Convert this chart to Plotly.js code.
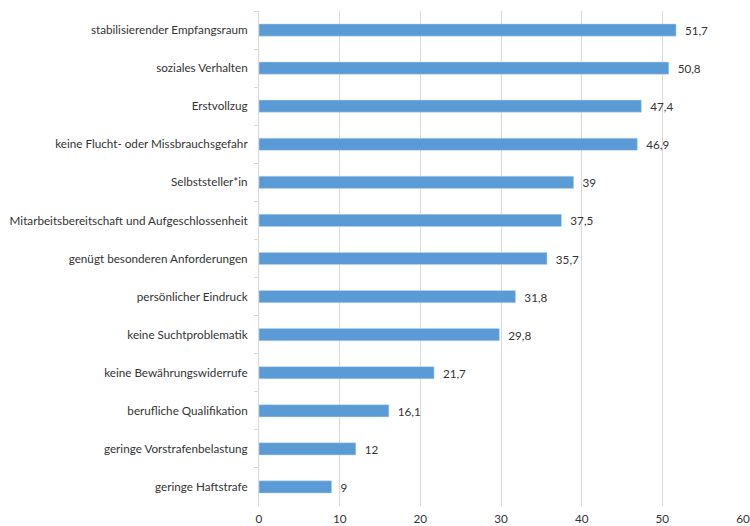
<!DOCTYPE html>
<html>
<head>
<meta charset="utf-8">
<script src="https://cdn.plot.ly/plotly-3.0.1.min.js"></script>
<style>html,body{margin:0;padding:0;background:#fff;}#chart{width:750px;height:526px;}</style>
</head>
<body>
<div id="chart"></div>
<script>
const categories = [
  "stabilisierender Empfangsraum",
  "soziales Verhalten",
  "Erstvollzug",
  "keine Flucht- oder Missbrauchsgefahr",
  "Selbststeller*in",
  "Mitarbeitsbereitschaft und Aufgeschlossenheit",
  "genügt besonderen Anforderungen",
  "persönlicher Eindruck",
  "keine Suchtproblematik",
  "keine Bewährungswiderrufe",
  "berufliche Qualifikation",
  "geringe Vorstrafenbelastung",
  "geringe Haftstrafe"
];
const values = [51.7, 50.8, 47.4, 46.9, 39, 37.5, 35.7, 31.8, 29.8, 21.7, 16.1, 12, 9];
const xTicks = [0, 10, 20, 30, 40, 50, 60];

const labels = values.map(v => '\u2002' + String(v).replace('.', ','));
const fontFam = 'Lato, "Liberation Sans", sans-serif';
const fs = 11.7;

Plotly.newPlot('chart', [{
  type: 'bar',
  orientation: 'h',
  y: categories,
  x: values,
  text: labels,
  textposition: 'outside',
  constraintext: 'none',
  cliponaxis: false,
  textfont: {family: fontFam, size: fs, color: '#333333'},
  marker: {color: '#5B9BD5', line: {color: '#BDD7EE', width: 0.5}},
  hoverinfo: 'none'
}], {
  width: 750, height: 526,
  margin: {l: 259, r: 7, t: 11, b: 20, pad: 0},
  paper_bgcolor: '#fff', plot_bgcolor: '#fff',
  bargap: 0.68,
  showlegend: false,
  font: {family: fontFam, size: fs, color: '#333333'},
  xaxis: {
    range: [0, 60], tickvals: xTicks, showgrid: true, gridcolor: '#D9D9D9', gridwidth: 1,
    zeroline: false, showline: false, ticks: '', fixedrange: true, ticklabelstandoff: 4,
    tickfont: {family: fontFam, size: fs, color: '#333333'}
  },
  yaxis: {
    autorange: 'reversed', showline: true, linecolor: '#D9D9D9', linewidth: 1,
    ticks: 'outside', tickson: 'boundaries', ticklen: 4, tickcolor: '#D9D9D9',
    showgrid: false, zeroline: false, ticklabelstandoff: 8,
    tickfont: {family: fontFam, size: fs, color: '#333333'}
  }
}, {displayModeBar: false, staticPlot: true});
</script>
</body>
</html>
